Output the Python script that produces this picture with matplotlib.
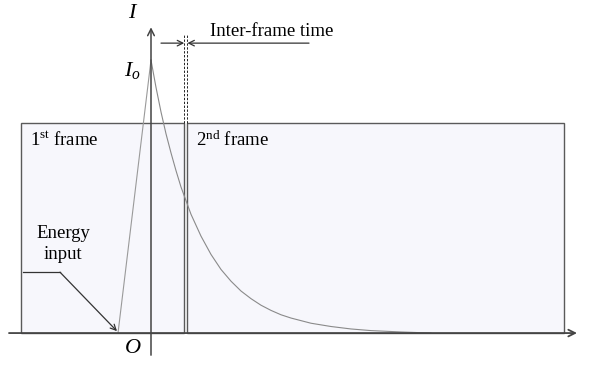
import matplotlib
matplotlib.use('Agg')
import matplotlib.pyplot as plt
from matplotlib.patches import Rectangle

plt.rcParams['font.family'] = 'Liberation Serif'
plt.rcParams['mathtext.fontset'] = 'custom'
plt.rcParams['mathtext.rm'] = 'Liberation Serif'
plt.rcParams['mathtext.it'] = 'Liberation Serif:italic'

# energy input ramp: time, intensity (normalised to the peak I_o)
rise_t = [-3.3, 0.0]
rise_i = [0.0, 1.0]

# decay after the peak
decay_t = [0.0, 0.5, 1.0, 1.5, 2.0, 2.5, 3.0, 3.5, 4.0, 5.0, 6.0, 7.0, 8.0,
           9.0, 10.0, 11.0, 12.0, 13.0, 14.0, 16.0, 18.0, 20.0, 22.0, 25.0, 28.0]
decay_i = [1.0, 0.90, 0.81, 0.73, 0.66, 0.595, 0.535, 0.485, 0.435, 0.355,
           0.288, 0.233, 0.19, 0.154, 0.126, 0.102, 0.083, 0.067, 0.055,
           0.036, 0.024, 0.015, 0.009, 0.004, 0.0]

# exposure frames: (start, end), common height
frame_t = [(-13.0, 3.32), (3.64, 41.3)]
frame_top = 0.769
frame_labels = ['1$^{\\mathrm{st}}$ frame', '2$^{\\mathrm{nd}}$ frame']

fig = plt.figure(figsize=(5.89, 3.65), dpi=100)
ax = fig.add_axes([0, 0, 1, 1])
ax.set_xlim(-15.1, 43.8)
ax.set_ylim(-0.117, 1.22)
ax.axis('off')

fill = '#f7f7fc'
edge = '#5a5a5a'
fs = 13.5

# frames
for (t0, t1), lab in zip(frame_t, frame_labels):
    ax.add_patch(Rectangle((t0, 0), t1 - t0, frame_top, facecolor=fill,
                           edgecolor=edge, linewidth=1.0, zorder=1))
    ax.text(t0 + 0.9, 0.707, lab, fontsize=fs, ha='left', va='center', zorder=5)

# dashed extension of frame borders (inter-frame gap)
for tx in (frame_t[0][1], frame_t[1][0]):
    ax.plot([tx, tx], [frame_top, 1.092], color='#222222', lw=0.7,
            ls=(0, (2.4, 1.6)), zorder=3)

# intensity curve
ax.plot(rise_t, rise_i, color='#9a9a9a', lw=0.8, zorder=4)
ax.plot(decay_t, decay_i, color='#8a8a8a', lw=0.8, zorder=4)

# axes with open arrow heads
ax.annotate('', xy=(42.6, 0), xytext=(-14.2, 0),
            arrowprops=dict(arrowstyle='->', color='#444444', lw=1.3,
                            mutation_scale=12, shrinkA=0, shrinkB=0), zorder=6)
ax.annotate('', xy=(0, 1.12), xytext=(0, -0.081),
            arrowprops=dict(arrowstyle='->', color='#444444', lw=1.1,
                            mutation_scale=12, shrinkA=0, shrinkB=0), zorder=6)

ax.text(-1.8, 1.172, '$I$', fontsize=16, ha='center', va='center')
ax.text(-1.9, 0.963, '$I_o$', fontsize=16, ha='center', va='center')
ax.text(-1.8, -0.055, '$O$', fontsize=16, ha='center', va='center')

# inter-frame time marker
gap_y = 1.062
ax.annotate('', xy=(frame_t[0][1], gap_y), xytext=(1.0, gap_y),
            arrowprops=dict(arrowstyle='->', color='#333333', lw=0.9,
                            mutation_scale=10, shrinkA=0, shrinkB=0))
ax.annotate('', xy=(frame_t[1][0], gap_y), xytext=(15.8, gap_y),
            arrowprops=dict(arrowstyle='->', color='#333333', lw=0.9,
                            mutation_scale=10, shrinkA=0, shrinkB=0))
ax.text(12.1, 1.103, 'Inter-frame time', fontsize=fs, ha='center', va='center')

# energy input leader
ax.text(-8.8, 0.366, 'Energy', fontsize=fs, ha='center', va='center', zorder=5)
ax.text(-8.8, 0.286, 'input', fontsize=fs, ha='center', va='center', zorder=5)
ax.plot([-12.8, -9.1], [0.223, 0.223], color='#333333', lw=0.9, zorder=5)
ax.annotate('', xy=(-3.4, 0.007), xytext=(-9.1, 0.223),
            arrowprops=dict(arrowstyle='->', color='#333333', lw=0.9,
                            mutation_scale=10, shrinkA=0, shrinkB=0), zorder=5)

fig.savefig('out.png', dpi=100, facecolor='white')
